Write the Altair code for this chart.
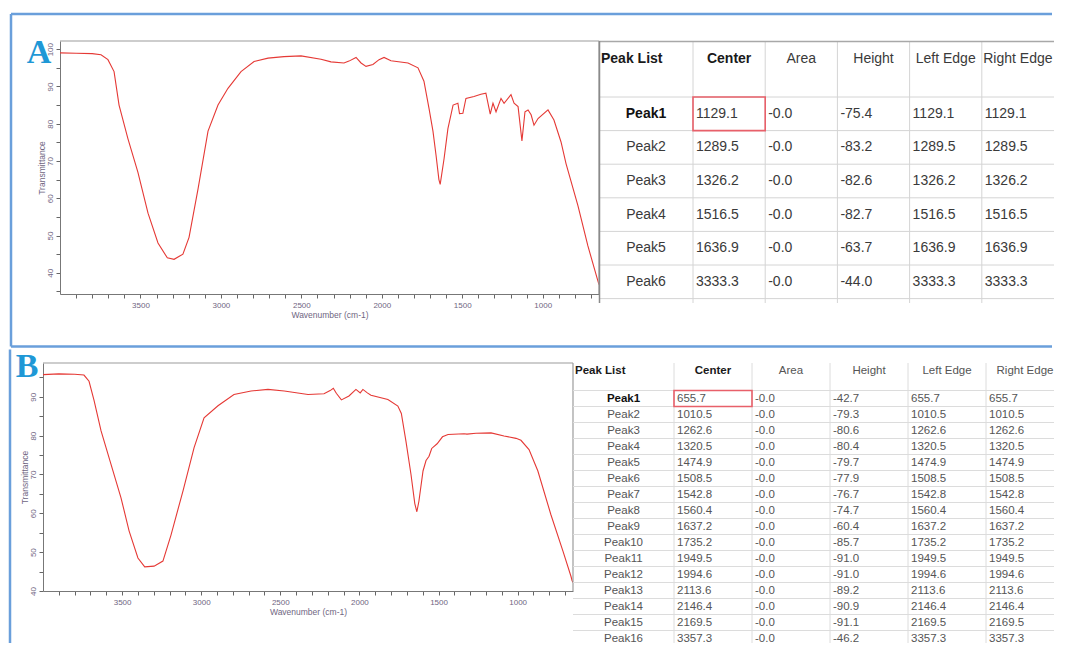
import altair as alt
import pandas as pd

# ---------------- spectrum A ----------------
wavenumber_a = [4000, 3900, 3800, 3745, 3702, 3664, 3633, 3578, 3516, 3453,
                3391, 3333, 3291, 3236, 3198, 3142, 3080, 3018, 2956, 2875,
                2794, 2707, 2608, 2502, 2378, 2316, 2235, 2204, 2160, 2129,
                2098, 2055, 2017, 1986, 1943, 1837, 1775, 1738, 1706, 1682,
                1663, 1645, 1637, 1613, 1589, 1557, 1527, 1517, 1496, 1477,
                1427, 1384, 1353, 1326, 1309, 1290, 1259, 1240, 1197, 1178,
                1153, 1129, 1110, 1091, 1072, 1054, 1029, 967, 930, 886,
                855, 781, 719, 657, 650]
transmittance_a = [99.0, 98.9, 98.8, 98.5, 97.2, 94.0, 85.0, 76.0, 67.0, 56.0,
                   48.0, 44.0, 43.6, 45.0, 49.5, 62.5, 78.0, 85.0, 89.5, 94.0,
                   96.7, 97.6, 98.0, 98.2, 97.3, 96.6, 96.3, 96.8, 97.8, 96.3,
                   95.4, 95.9, 97.2, 97.8, 96.9, 96.3, 95.0, 91.4, 84.0, 78.0,
                   71.6, 65.0, 63.7, 70.6, 78.7, 85.0, 85.5, 82.7, 82.8, 86.8,
                   87.3, 87.9, 88.2, 82.6, 85.5, 83.2, 86.8, 85.5, 87.8, 85.5,
                   84.6, 75.4, 83.2, 83.7, 82.4, 79.6, 81.4, 83.7, 81.0, 75.1,
                   69.3, 58.0, 47.2, 37.8, 36.8]

# ---------------- spectrum B ----------------
wavenumber_b = [4000, 3900, 3800, 3741, 3709, 3677, 3633, 3570, 3507, 3456,
                3400, 3357, 3298, 3242, 3191, 3115, 3045, 2982, 2894, 2793,
                2685, 2578, 2475, 2325, 2224, 2185, 2165, 2146, 2114, 2066,
                2022, 1995, 1978, 1950, 1927, 1820, 1757, 1735, 1706, 1674,
                1650, 1637, 1624, 1598, 1579, 1560, 1543, 1509, 1475, 1440,
                1339, 1320, 1263, 1168, 1086, 1010, 979, 928, 872, 790,
                713, 663, 656, 650]
transmittance_b = [95.7, 95.9, 95.8, 95.6, 94.0, 89.0, 81.2, 72.6, 64.0, 55.5,
                   48.5, 46.2, 46.4, 47.7, 54.4, 65.8, 76.9, 84.6, 87.7, 90.6,
                   91.5, 91.9, 91.5, 90.6, 90.8, 91.6, 92.2, 90.9, 89.2, 90.2,
                   91.9, 91.0, 91.9, 91.0, 90.4, 89.3, 87.6, 85.7, 78.6, 70.0,
                   62.5, 60.4, 63.1, 70.9, 73.6, 74.7, 76.7, 77.9, 79.7, 80.3,
                   80.5, 80.4, 80.6, 80.7, 79.9, 79.3, 78.8, 76.4, 70.9, 59.7,
                   50.2, 43.8, 42.7, 42.2]

# ---------------- peak table A ----------------
peaks_a = ["Peak1", "Peak2", "Peak3", "Peak4", "Peak5", "Peak6"]
center_a = ["1129.1", "1289.5", "1326.2", "1516.5", "1636.9", "3333.3"]
area_a = ["-0.0", "-0.0", "-0.0", "-0.0", "-0.0", "-0.0"]
height_a = ["-75.4", "-83.2", "-82.6", "-82.7", "-63.7", "-44.0"]
left_a = ["1129.1", "1289.5", "1326.2", "1516.5", "1636.9", "3333.3"]
right_a = ["1129.1", "1289.5", "1326.2", "1516.5", "1636.9", "3333.3"]

# ---------------- peak table B ----------------
peaks_b = ["Peak1", "Peak2", "Peak3", "Peak4", "Peak5", "Peak6", "Peak7", "Peak8",
           "Peak9", "Peak10", "Peak11", "Peak12", "Peak13", "Peak14", "Peak15", "Peak16"]
center_b = ["655.7", "1010.5", "1262.6", "1320.5", "1474.9", "1508.5", "1542.8", "1560.4",
            "1637.2", "1735.2", "1949.5", "1994.6", "2113.6", "2146.4", "2169.5", "3357.3"]
area_b = ["-0.0", "-0.0", "-0.0", "-0.0", "-0.0", "-0.0", "-0.0", "-0.0",
          "-0.0", "-0.0", "-0.0", "-0.0", "-0.0", "-0.0", "-0.0", "-0.0"]
height_b = ["-42.7", "-79.3", "-80.6", "-80.4", "-79.7", "-77.9", "-76.7", "-74.7",
            "-60.4", "-85.7", "-91.0", "-91.0", "-89.2", "-90.9", "-91.1", "-46.2"]
left_b = ["655.7", "1010.5", "1262.6", "1320.5", "1474.9", "1508.5", "1542.8", "1560.4",
          "1637.2", "1735.2", "1949.5", "1994.6", "2113.6", "2146.4", "2169.5", "3357.3"]
right_b = ["655.7", "1010.5", "1262.6", "1320.5", "1474.9", "1508.5", "1542.8", "1560.4",
           "1637.2", "1735.2", "1949.5", "1994.6", "2113.6", "2146.4", "2169.5", "3357.3"]

value_columns = ["Center", "Area", "Height", "Left Edge", "Right Edge"]

# ---------------- styles ----------------
BLUE = "#6a9fdb"
RED = "#e53935"
AXC = "#6f6682"
FRAME = "#9c9c9c"
ONE = pd.DataFrame({"k": [0]})
X_TICKS = list(range(700, 4000, 100))


def hrule(x1, x2, y, color, w):
    return alt.Chart(ONE).mark_rule(color=color, strokeWidth=w).encode(
        x=alt.value(x1), x2=alt.value(x2), y=alt.value(y))


def vrule(x, y1, y2, color, w):
    return alt.Chart(ONE).mark_rule(color=color, strokeWidth=w).encode(
        x=alt.value(x), y=alt.value(y1), y2=alt.value(y2))


def spectrum_layers(wn, tr, x0, width, ydomain, yticks, letter, lx, ly):
    df = pd.DataFrame({"Wavenumber": wn, "Transmittance": tr})
    line = alt.Chart(df).mark_line(color=RED, strokeWidth=1.1, clip=True).encode(
        x=alt.X("Wavenumber:Q",
                scale=alt.Scale(domain=[650, 4000], range=[x0, x0 + width], reverse=True,
                                nice=False, zero=False),
                axis=alt.Axis(values=X_TICKS, format="d",
                              labelExpr="datum.value % 500 === 0 ? datum.label : ''",
                              title="Wavenumber (cm-1)", grid=False,
                              labelFont="Liberation Sans", labelFontSize=8, labelColor=AXC,
                              labelPadding=3, tickSize=4, tickColor="#666",
                              domainColor="#777", titleFont="Liberation Sans",
                              titleFontSize=8.5, titleFontWeight="normal",
                              titleColor=AXC, titlePadding=1)),
        y=alt.Y("Transmittance:Q",
                scale=alt.Scale(domain=ydomain, nice=False, zero=False),
                axis=alt.Axis(values=yticks, format="d", offset=-x0,
                              labelExpr="datum.value % 10 === 0 ? datum.label : ''",
                              title="Transmittance", grid=False,
                              labelFont="Liberation Sans", labelFontSize=8, labelColor=AXC,
                              labelAngle=270, labelAlign="center", labelBaseline="bottom",
                              labelPadding=2, tickSize=4, tickColor="#666",
                              domainColor="#777", titleFont="Liberation Sans",
                              titleFontSize=8.5, titleFontWeight="normal",
                              titleColor=AXC, titlePadding=0)),
    )
    lab = alt.Chart(pd.DataFrame({"panel": [letter]})).mark_text(
        font="Liberation Serif", fontSize=34, fontWeight="bold", color="#1f98d6",
        align="center", baseline="middle").encode(
        text="panel:N", x=alt.value(lx), y=alt.value(ly))
    return [line, lab]


def table_layers(peaks, cols, ox, W, H, w0, bw, hdr_y, row_top, row_h, font, fs, hfs,
                 line_color, text_color, borders, bottom_line):
    recs = []
    for j, c in enumerate(value_columns):
        for i, p in enumerate(peaks):
            recs.append({"peak": p, "col": c, "txt": cols[j][i]})
    cells = pd.DataFrame(recs)
    names = pd.DataFrame({"peak": peaks})
    heads = pd.DataFrame({"col": value_columns})
    sel = pd.DataFrame({"peak": [peaks[0]], "col": ["Center"]})

    xs = alt.Scale(type="band", domain=value_columns,
                   range=[ox + w0, ox + w0 + 5 * bw], paddingInner=0, paddingOuter=0)
    ys = alt.Scale(type="band", domain=peaks,
                   range=[row_top, row_top + len(peaks) * row_h], paddingInner=0, paddingOuter=0)

    def X(bp):
        return alt.X("col:N", scale=xs, bandPosition=bp, axis=None)

    def Y(bp):
        return alt.Y("peak:N", scale=ys, bandPosition=bp, axis=None)

    layers = []
    layers.append(alt.Chart(names).mark_rule(color=line_color, strokeWidth=1)
                  .encode(y=Y(0), x=alt.value(ox), x2=alt.value(ox + W)))
    if bottom_line:
        layers.append(alt.Chart(names).transform_filter(alt.datum.peak == peaks[-1])
                      .mark_rule(color=line_color, strokeWidth=1)
                      .encode(y=Y(1), x=alt.value(ox), x2=alt.value(ox + W)))
    layers.append(alt.Chart(heads).mark_rule(color=line_color, strokeWidth=1)
                  .encode(x=X(0), y=alt.value(0), y2=alt.value(H)))
    if borders:
        layers.append(hrule(ox, ox + W, 0.5, "#a8a8a8", 1.5))
        layers.append(vrule(ox + 0.5, 0, H, "#8a8a8a", 1.5))
    layers.append(alt.Chart(sel).mark_rect(fillOpacity=0, stroke="#e8606a", strokeWidth=1.6)
                  .encode(x=X(0.5), y=Y(0.5)))
    # header row
    layers.append(alt.Chart(pd.DataFrame({"t": ["Peak List"]}))
                  .mark_text(align="left", baseline="middle", font=font, fontSize=hfs,
                             fontWeight="bold", color="#1a1a1a")
                  .encode(text="t:N", x=alt.value(ox + 2), y=alt.value(hdr_y)))
    layers.append(alt.Chart(heads).transform_filter(alt.datum.col == "Center")
                  .mark_text(align="center", baseline="middle", font=font, fontSize=hfs,
                             fontWeight="bold", color="#1a1a1a")
                  .encode(text="col:N", x=X(0.5), y=alt.value(hdr_y)))
    layers.append(alt.Chart(heads).transform_filter(alt.datum.col != "Center")
                  .mark_text(align="center", baseline="middle", font=font, fontSize=hfs,
                             color=text_color)
                  .encode(text="col:N", x=X(0.5), y=alt.value(hdr_y)))
    # peak names
    layers.append(alt.Chart(names).transform_filter(alt.datum.peak == peaks[0])
                  .mark_text(align="center", baseline="middle", font=font, fontSize=fs,
                             fontWeight="bold", color="#111")
                  .encode(text="peak:N", x=alt.value(ox + w0 / 2), y=Y(0.5)))
    layers.append(alt.Chart(names).transform_filter(alt.datum.peak != peaks[0])
                  .mark_text(align="center", baseline="middle", font=font, fontSize=fs,
                             color=text_color)
                  .encode(text="peak:N", x=alt.value(ox + w0 / 2), y=Y(0.5)))
    # cell values
    layers.append(alt.Chart(cells)
                  .mark_text(align="left", baseline="middle", dx=3, font=font, fontSize=fs,
                             color=text_color)
                  .encode(text="txt:N", x=X(0), y=Y(0.5)))
    return layers


# ---------------- panel A: spectrum + table (plot shifted 17px right of panel B) ----------------
SHIFT = 17
WA, HA = 539, 253
rowA = alt.layer(
    *spectrum_layers(wavenumber_a, transmittance_a, SHIFT, WA, [34.3, 102.2],
                     list(range(35, 101, 5)), "A", SHIFT - 21, 12),
    hrule(SHIFT, SHIFT + WA, 0, FRAME, 1.2),
    vrule(SHIFT + WA, 0, HA, FRAME, 1.2),
    *table_layers(peaks_a, [center_a, area_a, height_a, left_a, right_a], SHIFT + WA, 455, 262,
                  94, 72.2, 18, 56, 33.6, "Liberation Sans", 14, 14, "#d4d4d4", "#3a3a3a",
                  True, True),
    hrule(SHIFT - 49, SHIFT + 992, -27, BLUE, 2.5),
    vrule(SHIFT - 49, -27, 305.5, BLUE, 2.5),
    hrule(SHIFT - 49, SHIFT + 992, 305.5, BLUE, 2.5),
).resolve_scale(x="independent", y="independent").properties(
    width=SHIFT + WA, height=HA)

# ---------------- panel B: spectrum + table ----------------
WB, HB = 530, 228
rowB = alt.layer(
    *spectrum_layers(wavenumber_b, transmittance_b, 0, WB, [40, 98.7],
                     list(range(40, 96, 5)), "B", -16, 4),
    hrule(0, WB, 0, FRAME, 1.2),
    vrule(WB, 0, HB, FRAME, 1.2),
    *table_layers(peaks_b, [center_b, area_b, height_b, left_b, right_b], WB, 481, 280,
                  101, 78, 8, 27.5, 16.0, "Liberation Sans", 11.5, 11.5, "#dcdcdc", "#555555",
                  False, False),
    vrule(-33, -13.5, 280, BLUE, 2.5),
).resolve_scale(x="independent", y="independent").properties(
    width=WB, height=HB)

chart = alt.vconcat(rowA, rowB, spacing=0).properties(
    padding={"left": 0, "top": 4, "right": 0, "bottom": 0}
).configure_view(stroke=None)

chart.save("out.html", embed_options={"renderer": "svg", "actions": False})
